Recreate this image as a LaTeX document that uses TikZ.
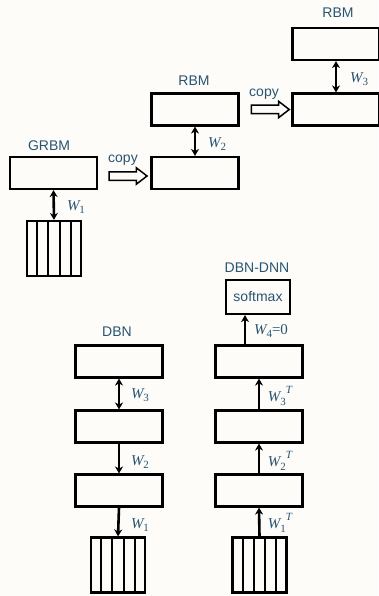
\documentclass[tikz,border=0pt]{standalone}
\usepackage{fontspec}
\setmainfont{Liberation Sans}
\newfontfamily\wfont{Liberation Serif}
\usepackage{tikz}
\usetikzlibrary{arrows.meta, shapes.arrows, calc}

\definecolor{labblue}{RGB}{40,85,115}
\definecolor{paper}{RGB}{254,252,248}
% weight label: W, subscript, superscript
\newcommand{\wlab}[2]{{\wfont\itshape W}\raisebox{-0.45ex}{\wfont\fontsize{11}{11}\selectfont #1}\raisebox{1.0ex}{\wfont\itshape\fontsize{11}{11}\selectfont #2}}

\begin{document}
\begin{tikzpicture}[x=1pt, y=-1pt,
  layer/.style={draw, line width=2.2pt, minimum width=87pt, minimum height=32pt, inner sep=0pt},
  visible/.style={draw, line width=2.2pt, minimum width=54pt, minimum height=55pt, inner sep=0pt},
  title/.style={text=labblue, font=\fontsize{14}{14}\selectfont},
  wtext/.style={text=labblue, font=\fontsize{15}{15}\selectfont},
  both/.style={line width=2.6pt, {Stealth[length=7pt,width=8pt]}-{Stealth[length=7pt,width=8pt]}},
  onedir/.style={line width=2.6pt, -{Stealth[length=7pt,width=8pt]}},
  copyarrow/.style={single arrow, draw, line width=1.5pt, minimum height=38pt, text height=3.5pt, text depth=3.5pt,
    single arrow head extend=4pt, single arrow tip angle=75, inner sep=0pt}]
\fill[paper] (0,0) rectangle (378,596);
\useasboundingbox (0,0) rectangle (378,596);

% GRBM
\node[title] at (49,146) {GRBM};
\node[layer] (g1) at (53.5,173) {};
\node[visible] (gin) at (54,248.5) {};
\draw[both] (g1.south) -- (gin.north);
\node[wtext] at (76,207) {\wlab{1}{}};

% RBM (second layer)
\node[title] at (194,81) {RBM};
\node[layer] (r2t) at (195,109.5) {};
\node[layer] (r2b) at (195,173) {};
\draw[both] (r2t.south) -- (r2b.north);
\node[wtext] at (217,144) {\wlab{2}{}};

% RBM (third layer)
\node[title] at (338,13) {RBM};
\node[layer] (r3t) at (336,44) {};
\node[layer] (r3b) at (336,109.5) {};
\draw[both] (r3t.south) -- (r3b.north);
\node[wtext] at (359,79) {\wlab{3}{}};

% copy arrows
\node[copyarrow] (c1) at ($(g1.east)!0.5!(r2b.west)+(1,3)$) {};
\node[title] at (123,160) {copy};
\node[copyarrow] (c2) at ($(r2t.east)!0.5!(r3b.west)+(2,0)$) {};
\node[title] at (264,94) {copy};

% DBN
\node[title] at (117,332) {DBN};
\node[layer] (d3) at (119,361.5) {};
\node[layer] (d2) at (119,426.5) {};
\node[layer] (d1) at (119,490.5) {};
\node[visible] (din) at (118,565) {};
\draw[both] (d3.south) -- (d2.north);
\draw[onedir] (d2.south) -- (d1.north);
\draw[onedir] (d1.south) -- (din.north);
\node[wtext] at (140,395) {\wlab{3}{}};
\node[wtext] at (140,462) {\wlab{2}{}};
\node[wtext] at (140,525) {\wlab{1}{}};

% DBN-DNN
\node[title] at (257,268) {DBN-DNN};
\node[draw, line width=2.2pt, minimum width=64pt, minimum height=34pt, inner sep=0pt, title, text=labblue] (sm) at (258,297) {softmax};
\node[layer] (e3) at (259,361.5) {};
\node[layer] (e2) at (259,426.5) {};
\node[layer] (e1) at (259,490.5) {};
\node[visible] (ein) at (259.5,565) {};
\draw[onedir] ([xshift=-14pt]e3.north) -- ([xshift=-13pt]sm.south);
\draw[onedir] (e2.north) -- (e3.south);
\draw[onedir] (e1.north) -- (e2.south);
\draw[onedir] (ein.north) -- (e1.south);
\node[wtext] at (271,331) {\wlab{4}{}{\wfont=0}};
\node[wtext] at (280,396) {\wlab{3}{T}};
\node[wtext] at (280,461) {\wlab{2}{T}};
\node[wtext] at (280,523) {\wlab{1}{T}};

% stripes of the input layers
\foreach \n in {gin,din,ein}
  \foreach \i in {1,...,4}
    \draw[line width=1.8pt] ($(\n.north west)!\i/5!(\n.north east)$) -- ($(\n.south west)!\i/5!(\n.south east)$);
\end{tikzpicture}
\end{document}
